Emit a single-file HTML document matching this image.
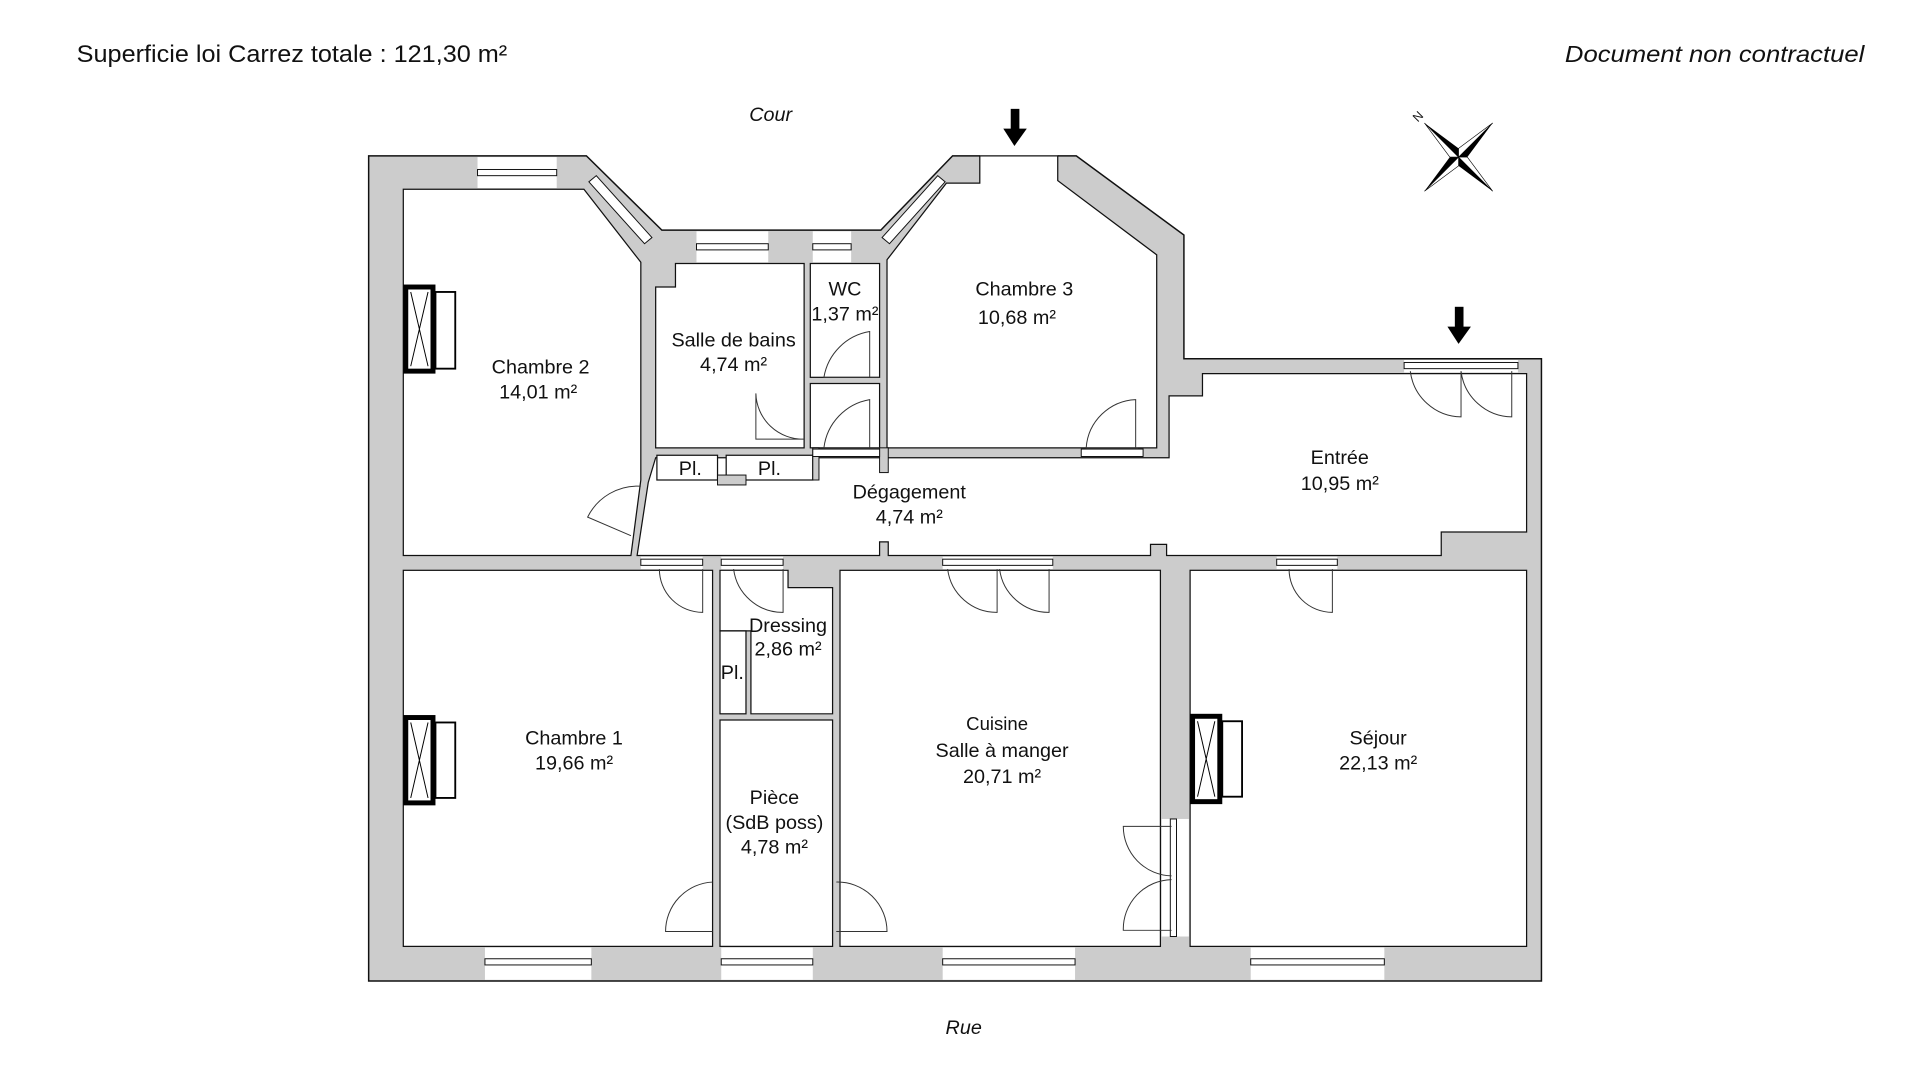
<!DOCTYPE html>
<html><head><meta charset="utf-8"><style>
html,body{margin:0;padding:0;background:#fff;}
svg{display:block;}
text{font-family:"Liberation Sans",sans-serif;fill:#111;}
</style></head><body>
<svg width="1920" height="1080" viewBox="0 0 1552 873" xmlns="http://www.w3.org/2000/svg">
<rect width="1552" height="873" fill="#fff"/>
<text x="62" y="50" font-size="19.5" textLength="348" lengthAdjust="spacingAndGlyphs">Superficie loi Carrez totale :  121,30 m²</text>
<text x="1265" y="50" font-size="19" font-style="italic" textLength="242" lengthAdjust="spacingAndGlyphs">Document non contractuel</text>
<text x="623" y="98" font-size="16" font-style="italic" text-anchor="middle">Cour</text>
<text x="779" y="836" font-size="16" font-style="italic" text-anchor="middle">Rue</text>

<polygon points="298,126 474,126 535,186 712,186 770,126 870,126 957,190 957,290 1246,290 1246,793 298,793" fill="#cccccc" stroke="#111" stroke-width="1.2"/>
<rect x="792" y="124" width="63" height="24" fill="#fff"/>

<g fill="#fff" stroke="#111" stroke-width="1">
<polygon points="326,153 472,153 518,212 518,388 510,449 326,449"/>
<polygon points="546,213 650,213 650,362 530,362 530,232 546,232"/>
<rect x="655" y="213" width="56" height="92"/>
<rect x="655" y="310" width="56" height="52"/>
<polygon points="717,210 765,148 792,148 792,126 855,126 855,146 935,206 935,362 717,362"/>
<polygon points="530,370 945,370 945,320 972,320 972,302 1234,302 1234,430 1165,430 1165,449 943,449 943,440 930,440 930,449 718,449 718,438 711,438 711,449 515,449 524,390"/>
<rect x="531" y="368" width="49" height="20"/>
<rect x="587" y="368" width="70" height="20"/>
<rect x="326" y="461" width="250" height="304"/>
<polygon points="582,461 637,461 637,475 673,475 673,577 607,577 607,510 582,510"/>
<rect x="582" y="510" width="21" height="67"/>
<rect x="582" y="582" width="91" height="183"/>
<rect x="679" y="461" width="259" height="304"/>
<rect x="962" y="461" width="272" height="304"/>
</g>
<rect x="711" y="362" width="7" height="20" fill="#ccc" stroke="#111" stroke-width="0.8"/>
<rect x="580" y="384" width="23" height="8" fill="#ccc" stroke="#111" stroke-width="0.8"/>
<rect x="657" y="362" width="5" height="26" fill="#ccc" stroke="#111" stroke-width="0.8"/>

<g fill="#fff" stroke="#111" stroke-width="0.8">
<rect x="386" y="127" width="64" height="25" stroke="none"/>
<rect x="386" y="137" width="64" height="5"/>
<rect x="563" y="187" width="58" height="25" stroke="none"/>
<rect x="563" y="197" width="58" height="5"/>
<rect x="657" y="187" width="31" height="25" stroke="none"/>
<rect x="657" y="197" width="31" height="5"/>
<rect x="392" y="766" width="86" height="26" stroke="none"/>
<rect x="392" y="775" width="86" height="5"/>
<rect x="583" y="766" width="74" height="26" stroke="none"/>
<rect x="583" y="775" width="74" height="5"/>
<rect x="762" y="766" width="107" height="26" stroke="none"/>
<rect x="762" y="775" width="107" height="5"/>
<rect x="1011" y="766" width="108" height="26" stroke="none"/>
<rect x="1011" y="775" width="108" height="5"/>
<rect x="1135" y="291" width="92" height="10" stroke="none"/>
<rect x="1135" y="293" width="92" height="5"/>
<rect x="518" y="450" width="50" height="10" stroke="none"/>
<rect x="518" y="452" width="50" height="5"/>
<rect x="583" y="450" width="50" height="10" stroke="none"/>
<rect x="583" y="452" width="50" height="5"/>
<rect x="762" y="450" width="89" height="10" stroke="none"/>
<rect x="762" y="452" width="89" height="5"/>
<rect x="1032" y="450" width="49" height="10" stroke="none"/>
<rect x="1032" y="452" width="49" height="5"/>
<rect x="939" y="662" width="22" height="95" stroke="none"/>
<rect x="946" y="662" width="5" height="95"/>
<rect x="657" y="363" width="54" height="6"/>
<rect x="874" y="363" width="50" height="6"/>
</g>
<g stroke="#111" stroke-width="0.8" fill="#fff">
<polygon points="476,147 521,197 527,192 482,142"/>
<polygon points="713,192 758,142 764,147 719,197"/>
</g>

<g fill="none" stroke="#333" stroke-width="0.8">
<path d="M568,460 L568,495 A35,35 0 0 1 533,460"/>
<path d="M633,460 L633,495 A40,40 0 0 1 593,460"/>
<path d="M806,460 L806,495 A40,40 0 0 1 766,460 M808,460 A40,40 0 0 0 848,495 L848,460"/>
<path d="M1077,460 L1077,495 A35,35 0 0 1 1042,460"/>
<path d="M1181,300 L1181,337 A42,42 0 0 1 1140,300 M1181,300 A42,42 0 0 0 1222,337 L1222,300"/>
<path d="M576,713 A40,40 0 0 0 538,753 L576,753"/>
<path d="M676,713 A40,40 0 0 1 717,753 L676,753"/>
<path d="M947,668 L908,668 A40,40 0 0 0 947,708 M947,711 A40,40 0 0 0 908,752 L947,752"/>
<path d="M650,355 L611,355 L611,318 A38,38 0 0 0 650,355"/>
<path d="M711,305 L666,305 A45,45 0 0 1 703,268 L703,305"/>
<path d="M711,362 L666,362 A45,45 0 0 1 703,323 L703,362"/>
<path d="M920,362 L878,362 A42,42 0 0 1 918,323 L918,362"/>
<path d="M518,393 A45,45 0 0 0 475,418 L510,433"/>
</g>

<g fill="none" stroke="#000">
<rect x="328" y="232" width="22" height="68" stroke-width="4"/>
<path d="M332,236 L346,296 M346,236 L332,296" stroke-width="0.8"/>
<rect x="352" y="236" width="16" height="62" stroke-width="1.5"/>
<rect x="328" y="580" width="22" height="69" stroke-width="4"/>
<path d="M332,584 L346,645 M346,584 L332,645" stroke-width="0.8"/>
<rect x="352" y="584" width="16" height="61" stroke-width="1.5"/>
<rect x="964" y="579" width="22" height="69" stroke-width="4"/>
<path d="M968,583 L982,644 M982,583 L968,644" stroke-width="0.8"/>
<rect x="988" y="583" width="16" height="61" stroke-width="1.5"/>
</g>

<g fill="#000">
<rect x="817" y="88" width="7" height="18"/><polygon points="811,104 830,104 820,118"/>
<rect x="1176" y="248" width="7" height="18"/><polygon points="1170,264 1189,264 1179,278"/>
</g>
<g transform="translate(1179,127) rotate(-45)">
<polygon points="0,-39 5,-5 0,0" fill="#000"/><polygon points="0,-39 -5,-5 0,0" fill="#fff" stroke="#000" stroke-width="0.5"/>
<polygon points="0,39 -5,5 0,0" fill="#000"/><polygon points="0,39 5,5 0,0" fill="#fff" stroke="#000" stroke-width="0.5"/>
<polygon points="39,0 5,5 0,0" fill="#000"/><polygon points="39,0 5,-5 0,0" fill="#fff" stroke="#000" stroke-width="0.5"/>
<polygon points="-39,0 -5,-5 0,0" fill="#000"/><polygon points="-39,0 -5,5 0,0" fill="#fff" stroke="#000" stroke-width="0.5"/>
<text x="0" y="-43" font-size="10" text-anchor="middle">N</text>
</g>

<g font-size="16" text-anchor="middle">
<text x="437" y="302">Chambre  2</text><text x="435" y="322">14,01 m²</text>
<text x="593" y="280">Salle de bains</text><text x="593" y="300">4,74 m²</text>
<text x="683" y="239">WC</text><text x="683" y="259">1,37 m²</text>
<text x="828" y="239">Chambre 3</text><text x="822" y="262">10,68 m²</text>
<text x="558" y="384">Pl.</text><text x="622" y="384">Pl.</text>
<text x="735" y="403">Dégagement</text><text x="735" y="423">4,74 m²</text>
<text x="1083" y="375">Entrée</text><text x="1083" y="396">10,95 m²</text>
<text x="637" y="511">Dressing</text><text x="637" y="530">2,86 m²</text>
<text x="592" y="549">Pl.</text>
<text x="464" y="602">Chambre 1</text><text x="464" y="622">19,66 m²</text>
<text x="806" y="590" font-size="15">Cuisine</text><text x="810" y="612">Salle à manger</text><text x="810" y="633">20,71 m²</text>
<text x="626" y="650">Pièce</text><text x="626" y="670">(SdB poss)</text><text x="626" y="690">4,78 m²</text>
<text x="1114" y="602">Séjour</text><text x="1114" y="622">22,13 m²</text>
</g>
</svg>
</body></html>
